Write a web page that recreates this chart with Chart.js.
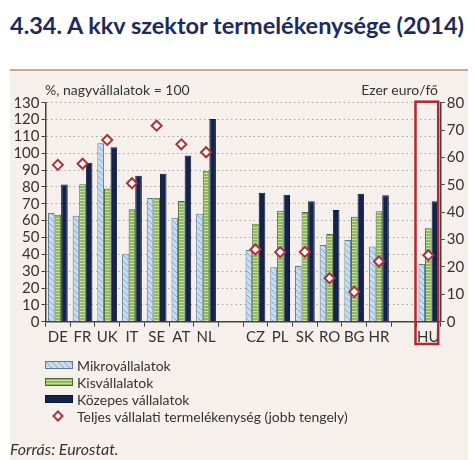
<!DOCTYPE html>
<html><head><meta charset="utf-8">
<script src="https://cdn.jsdelivr.net/npm/chart.js@4.4.1/dist/chart.umd.min.js"></script>
<style>
body{margin:0;width:474px;height:460px;background:#fff;position:relative;overflow:hidden;font-family:Lato,sans-serif;}
#panel{position:absolute;left:10px;top:69px;width:458px;height:391px;background:#f6f0ed;border-top:2px solid #c8a98b;}
#title{position:absolute;left:10px;top:11px;font-weight:bold;font-size:23.5px;line-height:28px;color:#1c2b5c;white-space:nowrap;}
#c{position:absolute;left:0;top:0;}
.t{position:absolute;white-space:nowrap;color:#333;font-size:14px;line-height:17px;}
.row{position:absolute;left:45px;height:17px;}
.row canvas{position:absolute;left:0;top:4px;}
.row span{position:absolute;left:32px;top:0;white-space:nowrap;color:#333;font-size:14px;line-height:17px;}
</style></head><body>
<div id="panel"></div>
<div id="title">4.34. A kkv szektor termelékenysége (2014)</div>
<canvas id="c" width="474" height="460" style="width:474px;height:460px"></canvas>
<div class="t" style="left:45px;top:81px">%, nagyvállalatok = 100</div>
<div class="t" style="right:36px;top:81px">Ezer euro/fő</div>
<div class="row" style="top:357px"><canvas id="sw0" width="28" height="8"></canvas><span>Mikrovállalatok</span></div>
<div class="row" style="top:374px"><canvas id="sw1" width="28" height="8"></canvas><span>Kisvállalatok</span></div>
<div class="row" style="top:391px"><canvas id="sw2" width="28" height="8"></canvas><span>Közepes vállalatok</span></div>
<div class="row" style="top:408px"><canvas id="sw3" width="28" height="12" style="top:2px"></canvas><span>Teljes vállalati termelékenység (jobb tengely)</span></div>
<div class="t" style="left:10px;top:439px;font-style:italic;font-size:16px;line-height:19px">Forrás: Eurostat.</div>
<script>
const categories = ['DE','FR','UK','IT','SE','AT','NL','','CZ','PL','SK','RO','BG','HR','','HU'];
const micro  = [64.5, 62.9, 105.9, 40.0, 73.4, 61.7, 64.1, null, 42.6, 32.3, 33.1, 45.5, 48.5, 44.7, null, 34.3];
const small  = [63.5, 81.6, 79.0, 66.8, 73.6, 71.6, 89.6, null, 58.2, 65.9, 65.1, 52.1, 62.3, 65.5, null, 55.5];
const medium = [81.4, 94.3, 103.5, 86.6, 87.8, 98.6, 120.3, null, 76.6, 75.4, 71.5, 66.3, 76.0, 75.0, null, 71.5];
const total  = [57.3, 57.7, 66.4, 50.6, 71.6, 64.8, 61.9, null, 26.4, 25.4, 25.5, 15.9, 10.9, 22.0, null, 24.3];
const seriesNames = ['Mikrovállalatok','Kisvállalatok','Közepes vállalatok','Teljes vállalati termelékenység (jobb tengely)'];
const leftTicks = [0,10,20,30,40,50,60,70,80,90,100,110,120,130];
const rightTicks = [0,10,20,30,40,50,60,70,80];

function hatchPattern(ctx){
  const c=document.createElement('canvas'); c.width=6; c.height=6;
  const g=c.getContext('2d');
  g.fillStyle='#c9ddf0'; g.fillRect(0,0,6,6);
  g.strokeStyle='#86a6c6'; g.lineWidth=1;
  g.beginPath(); g.moveTo(-1,-1); g.lineTo(7,7); g.moveTo(-1,5); g.lineTo(1,7); g.moveTo(5,-1); g.lineTo(7,1); g.stroke();
  return ctx.createPattern(c,'repeat');
}
function stripePattern(ctx){
  const c=document.createElement('canvas'); c.width=4; c.height=3;
  const g=c.getContext('2d');
  g.fillStyle='#8cb95a'; g.fillRect(0,0,4,3);
  g.fillStyle='#c8e0a2'; g.fillRect(0,2,4,1);
  return ctx.createPattern(c,'repeat');
}
const mainCtx = document.getElementById('c').getContext('2d');
const microFill = hatchPattern(mainCtx), smallFill = stripePattern(mainCtx);
const navy = '#13234a', red = '#b0303a';

(function(){
  const borders=['#5d7a96','#4a6a2a','#0c1836'];
  for(let i=0;i<3;i++){
    const g=document.getElementById('sw'+i).getContext('2d');
    const f = i===0?hatchPattern(g):(i===1?stripePattern(g):navy);
    g.fillStyle=f; g.fillRect(0,0,28,8);
    g.strokeStyle=borders[i]; g.lineWidth=1; g.strokeRect(0.5,0.5,27,7);
  }
  const g=document.getElementById('sw3').getContext('2d');
  g.fillStyle='#fff'; g.strokeStyle=red; g.lineWidth=2;
  g.beginPath(); g.moveTo(13,1.5); g.lineTo(17.5,6); g.lineTo(13,10.5); g.lineTo(8.5,6); g.closePath(); g.fill(); g.stroke();
})();

const huBox = {
  id:'huBox',
  afterDraw(chart){
    const x=chart.scales.x, ctx=chart.ctx;
    const i=categories.indexOf('HU');
    const w=x.width/categories.length;
    const cx=x.getPixelForValue(i);
    ctx.save();
    ctx.strokeStyle='#b3262d'; ctx.lineWidth=2.5;
    ctx.strokeRect(cx-w/2-0.5, chart.chartArea.top-1, w-2, 345-chart.chartArea.top);
    ctx.restore();
  }
};

new Chart(mainCtx, {
  data:{
    labels:categories,
    datasets:[
      {type:'bar', label:seriesNames[0], data:micro, backgroundColor:microFill, borderColor:'#5d7a96', borderWidth:1, yAxisID:'y', order:2},
      {type:'bar', label:seriesNames[1], data:small, backgroundColor:smallFill, borderColor:'#4a6a2a', borderWidth:1, yAxisID:'y', order:2},
      {type:'bar', label:seriesNames[2], data:medium, backgroundColor:navy, borderColor:'#0c1836', borderWidth:1, yAxisID:'y', order:2},
      {type:'line', label:seriesNames[3], data:total, showLine:false, pointStyle:'rectRot', pointRadius:5, pointBackgroundColor:'#fff', pointBorderColor:red, pointBorderWidth:2, yAxisID:'y2', order:0}
    ]
  },
  options:{
    responsive:false, animation:false,
    layout:{padding:{top:102.7,left:0,right:0,bottom:0}},
    datasets:{bar:{categoryPercentage:0.8, barPercentage:1.0}},
    plugins:{legend:{display:false}, tooltip:{enabled:false}},
    scales:{
      x:{
        offset:true,
        grid:{display:true, drawOnChartArea:false, tickLength:5, color:'#404040', offset:true},
        border:{color:'#404040', width:1.5},
        ticks:{font:{family:'Lato', size:15}, color:'#333', padding:1, maxRotation:0, autoSkip:false},
        afterFit(s){ s.height = 460-321.7; }
      },
      y:{
        position:'left', min:0, max:130,
        afterBuildTicks(s){ s.ticks = leftTicks.map(v=>({value:v})); },
        grid:{color:'#a5a5a5', lineWidth:1, tickLength:4, tickColor:'#404040', tickBorderDash:[]},
        border:{color:'#404040', width:1.5, dash:[1.5,3]},
        ticks:{font:{family:'Lato', size:15}, color:'#333', padding:2, autoSkip:false},
        afterFit(s){ s.width = 45.5; }
      },
      y2:{
        position:'right', min:0, max:80,
        afterBuildTicks(s){ s.ticks = rightTicks.map(v=>({value:v})); },
        grid:{drawOnChartArea:false, tickLength:4, color:'#404040'},
        border:{color:'#404040', width:1.5},
        ticks:{font:{family:'Lato', size:15}, color:'#333', padding:2, autoSkip:false},
        afterFit(s){ s.width = 474-440.7; }
      }
    }
  },
  plugins:[huBox]
});
</script>
</body></html>
